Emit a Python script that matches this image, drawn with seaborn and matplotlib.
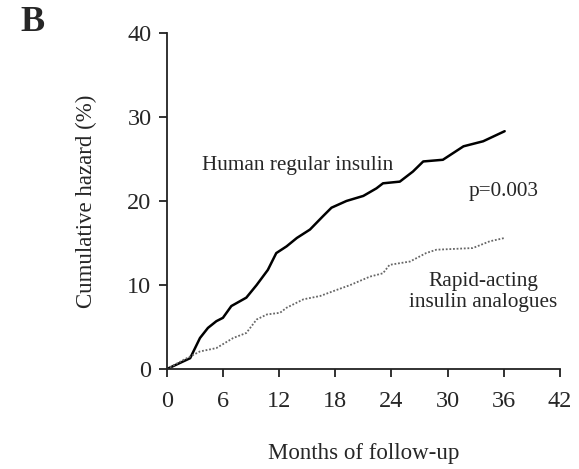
import seaborn as sns
import matplotlib.pyplot as plt
import pandas as pd
import numpy as np

# 数据
months_human = [0, 2.5, 3.55, 4.4, 5.3, 6.0, 6.9, 8.5, 9.6, 10.8, 11.7, 12.8, 13.9, 15.3,
                16.7, 17.6, 19.2, 21.0, 22.4, 23.1, 24.9, 26.3, 27.4, 29.5, 30.6, 31.7, 33.8, 36.1]
hazard_human = [0, 1.3, 3.7, 4.9, 5.7, 6.1, 7.5, 8.5, 10.0, 11.8, 13.8, 14.6, 15.6, 16.6,
                18.2, 19.2, 20.0, 20.6, 21.5, 22.1, 22.3, 23.5, 24.7, 24.9, 25.7, 26.5, 27.1, 28.3]

months_rapid = [0, 1.8, 3.55, 5.3, 7.1, 8.5, 9.6, 10.7, 12.1, 12.8, 14.6, 16.4, 18.1, 19.6,
                21.7, 23.1, 23.8, 26.0, 27.7, 28.8, 32.7, 34.5, 36.1]
hazard_rapid = [0, 1.1, 2.1, 2.5, 3.7, 4.3, 5.9, 6.5, 6.7, 7.3, 8.3, 8.7, 9.4, 10.0,
                11.0, 11.4, 12.4, 12.8, 13.8, 14.2, 14.4, 15.2, 15.6]

x_ticks = [0, 6, 12, 18, 24, 30, 36, 42]
y_ticks = [0, 10, 20, 30, 40]

df_h = pd.DataFrame({'Months': months_human, 'Hazard': hazard_human})
df_r = pd.DataFrame({'Months': months_rapid, 'Hazard': hazard_rapid})

sns.set_style('white')
plt.rcParams['font.family'] = ['Liberation Serif', 'DejaVu Serif']

fig = plt.figure(figsize=(5.79, 4.69), dpi=100)
ax = fig.add_axes([0.288, 0.213, 0.679, 0.717])

sns.lineplot(x='Months', y='Hazard', data=df_h, ax=ax, color='black', linewidth=1.8)
sns.lineplot(x='Months', y='Hazard', data=df_r, ax=ax, color='#666666', linewidth=1.3,
             linestyle=(0, (1, 1)))

ax.set_xlim(0, 42)
ax.set_ylim(0, 40)
ax.set_xticks(x_ticks)
ax.set_yticks(y_ticks)
ax.set_xlabel('Months of follow-up', fontsize=16.5, labelpad=22)
ax.set_ylabel('Cumulative hazard (%)', fontsize=16.5, labelpad=22)
ax.tick_params(axis='both', which='major', labelsize=17.5, direction='out',
               length=6, width=1.3, color='#222222', left=True, bottom=True)
ax.tick_params(axis='x', pad=10)
ax.tick_params(axis='y', pad=5)

for s in ['top', 'right']:
    ax.spines[s].set_visible(False)
for s in ['left', 'bottom']:
    ax.spines[s].set_color('#222222')
    ax.spines[s].set_linewidth(1.3)

ax.text(3.8, 24.2, 'Human regular insulin', fontsize=15.3, va='center', ha='left')
ax.text(32.2, 21.1, 'p=0.003', fontsize=15.3, va='center', ha='left')
ax.text(33.8, 9.2, 'Rapid-acting\ninsulin analogues', fontsize=15.3, va='center',
        ha='center', linespacing=1.12)

fig.text(0.056, 0.951, 'B', fontsize=26, fontweight='bold', va='center', ha='center')

plt.savefig('out.png', dpi=100)
